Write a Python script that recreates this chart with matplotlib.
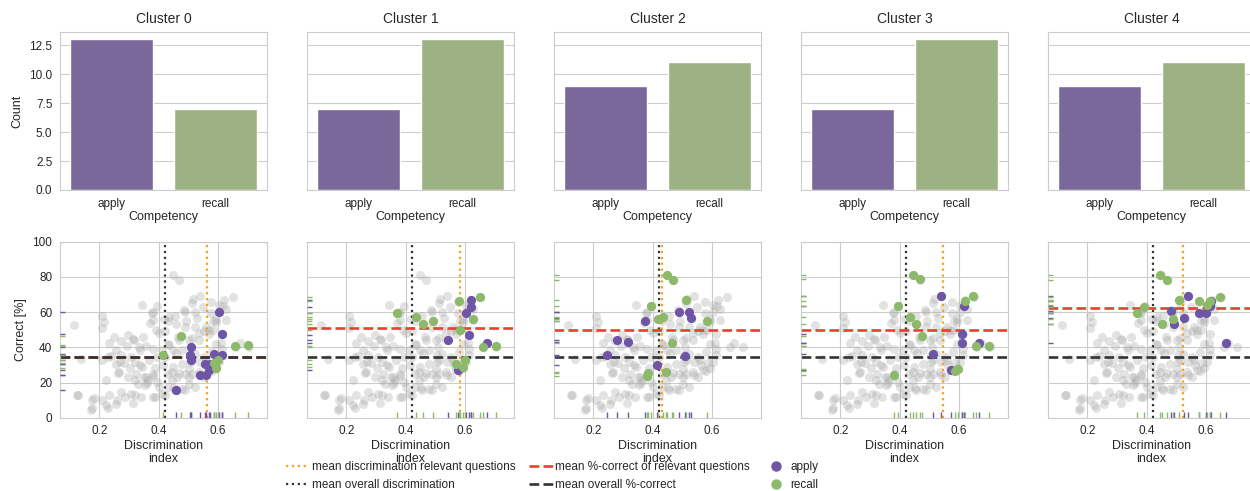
import numpy as np
import matplotlib
matplotlib.use("Agg")
import matplotlib.pyplot as plt
from matplotlib.lines import Line2D
import seaborn as sns

sns.set_style("whitegrid")
plt.rcParams['font.family'] = ['Liberation Sans', 'DejaVu Sans']

# ---- data ----
clusters = ['Cluster 0', 'Cluster 1', 'Cluster 2', 'Cluster 3', 'Cluster 4']
competencies = ['apply', 'recall']
apply_counts = [13, 7, 9, 7, 9]
recall_counts = [7, 13, 11, 13, 11]

# questions of each cluster (discrimination index, % correct)
apply_disc = [
    [0.602, 0.612, 0.510, 0.507, 0.510, 0.585, 0.614, 0.555, 0.572, 0.538, 0.569, 0.558, 0.457],
    [0.619, 0.619, 0.605, 0.544, 0.615, 0.674, 0.575],
    [0.488, 0.523, 0.530, 0.374, 0.280, 0.318, 0.247, 0.508, 0.415],
    [0.538, 0.616, 0.610, 0.609, 0.669, 0.511, 0.573],
    [0.539, 0.616, 0.615, 0.482, 0.577, 0.601, 0.526, 0.492, 0.668],
]
apply_correct = [
    [59.9, 47.7, 40.3, 35.6, 32.8, 36.2, 35.6, 30.5, 30.5, 24.3, 27.1, 24.4, 15.7],
    [66.9, 63.1, 59.7, 44.1, 47.2, 42.2, 26.9],
    [59.9, 59.9, 56.7, 55.0, 43.9, 42.9, 35.9, 35.0, 29.7],
    [69.3, 63.4, 47.4, 42.7, 42.7, 36.4, 26.9],
    [69.0, 66.5, 63.7, 60.9, 59.7, 59.7, 56.7, 53.5, 42.5],
]
recall_disc = [
    [0.474, 0.414, 0.658, 0.701, 0.600, 0.594, 0.585],
    [0.579, 0.651, 0.371, 0.435, 0.458, 0.492, 0.626, 0.583, 0.660, 0.706, 0.601, 0.594, 0.570],
    [0.447, 0.469, 0.512, 0.395, 0.417, 0.435, 0.582, 0.466, 0.446, 0.384, 0.380],
    [0.446, 0.470, 0.647, 0.619, 0.393, 0.434, 0.454, 0.475, 0.656, 0.702, 0.595, 0.585, 0.381],
    [0.445, 0.468, 0.647, 0.510, 0.575, 0.612, 0.392, 0.369, 0.453, 0.490, 0.605],
]
recall_correct = [
    [46.6, 35.6, 40.9, 41.3, 32.8, 28.1, 31.0],
    [66.1, 68.8, 59.3, 57.4, 53.2, 54.7, 56.1, 49.8, 40.3, 40.9, 32.8, 29.0, 30.5],
    [81.1, 78.3, 66.9, 63.3, 56.1, 57.1, 55.0, 42.7, 25.7, 25.3, 23.5],
    [81.2, 78.6, 69.1, 66.2, 63.6, 57.5, 53.5, 46.7, 40.6, 41.0, 27.9, 26.4, 24.1],
    [81.1, 78.1, 68.8, 66.9, 66.2, 66.5, 63.1, 59.4, 53.1, 56.0, 64.0],
]

# remaining questions (shown only in the grey background)
other_disc = [
    0.115, 0.211, 0.217, 0.209, 0.251, 0.274, 0.314, 0.348, 0.359, 0.382,
    0.336, 0.294, 0.138, 0.240, 0.274, 0.308, 0.257, 0.285, 0.319, 0.344,
    0.262, 0.297, 0.325, 0.356, 0.382, 0.331, 0.353, 0.365, 0.393, 0.308,
    0.274, 0.234, 0.257, 0.223, 0.211, 0.177, 0.172, 0.126, 0.342, 0.382,
    0.410, 0.433, 0.456, 0.478, 0.501, 0.524, 0.552, 0.581, 0.564, 0.541,
    0.507, 0.478, 0.450, 0.433, 0.461, 0.490, 0.513, 0.552, 0.524, 0.478,
    0.450, 0.422, 0.393, 0.410, 0.433, 0.467, 0.501, 0.535, 0.569, 0.552,
    0.626, 0.592, 0.558, 0.524, 0.490, 0.456, 0.433, 0.422, 0.660, 0.615,
    0.592, 0.603, 0.501, 0.344, 0.380, 0.380, 0.487, 0.515, 0.549, 0.628,
    0.594, 0.296, 0.391, 0.234, 0.256, 0.222, 0.313, 0.316, 0.333, 0.209,
    0.231, 0.271, 0.265, 0.305, 0.338, 0.367, 0.389, 0.350, 0.322, 0.361,
    0.400, 0.445, 0.468, 0.502, 0.535, 0.490, 0.451, 0.423, 0.389, 0.322,
    0.288, 0.260, 0.231, 0.181, 0.130, 0.175, 0.513, 0.558, 0.580, 0.457,
    0.434, 0.468, 0.513, 0.535, 0.569, 0.490, 0.513, 0.575, 0.378, 0.372,
    0.400, 0.703,
]
other_correct = [
    52.9, 58.0, 54.3, 51.0, 45.7, 43.5, 44.8, 45.7, 41.0, 39.1,
    38.2, 41.0, 33.5, 35.3, 35.9, 34.4, 30.6, 31.0, 31.6, 28.7,
    25.3, 23.1, 25.0, 23.1, 25.0, 19.3, 18.3, 21.2, 20.2, 13.6,
    14.6, 12.7, 7.9, 7.0, 9.8, 9.8, 4.2, 12.7, 11.7, 11.7,
    13.6, 17.4, 15.5, 16.4, 19.3, 17.4, 23.1, 26.8, 29.7, 31.6,
    31.6, 30.6, 28.7, 25.0, 23.1, 25.0, 25.0, 34.4, 36.3, 38.2,
    38.2, 34.4, 34.4, 38.2, 42.0, 45.7, 43.9, 43.9, 47.6, 49.5,
    55.6, 54.3, 51.4, 51.4, 51.4, 58.0, 55.2, 49.5, 40.1, 39.1,
    42.0, 31.6, 27.8, 64.0, 60.2, 55.5, 61.2, 67.2, 63.0, 62.0,
    55.9, 47.0, 49.8, 42.2, 38.4, 21.4, 8.1, 44.1, 40.3, 32.8,
    34.7, 31.8, 26.1, 28.1, 29.9, 32.8, 28.1, 23.3, 21.4, 19.5,
    17.6, 21.4, 25.2, 23.3, 26.1, 15.7, 16.7, 12.9, 11.9, 12.9,
    11.9, 10.1, 5.3, 11.0, 12.9, 5.3, 32.8, 32.8, 37.5, 36.6,
    41.3, 44.1, 45.1, 48.0, 49.8, 60.2, 65.0, 65.9, 59.3, 53.6,
    48.0, 40.1,
]

mean_disc_all = 0.422
mean_correct_all = 34.5
mean_disc_rel = [0.563, 0.583, 0.433, 0.546, 0.524]
mean_correct_rel = [34.7, 51.1, 49.9, 50.1, 62.6]

# ---- styling ----
bar_colors = ['#7b689b', '#9db282']
pt_colors = ['#6f55a5', '#8cb96a']
c_orange = '#f5a020'
c_red = '#e4412f'
c_dark = '#333333'

# all questions for the grey background (drop the near-duplicates)
bx, by = list(other_disc), list(other_correct)
for k in range(len(clusters)):
    for xs, ys in ((apply_disc[k], apply_correct[k]), (recall_disc[k], recall_correct[k])):
        for x, y in zip(xs, ys):
            if not any(abs(x - a) < 0.01 and abs(y - b) < 1.5 for a, b in zip(bx, by)):
                bx.append(x)
                by.append(y)

fig = plt.figure(figsize=(12.5, 4.91), dpi=100)
W, H = 1250, 491
left0, step, aw = 60, 247, 207

for k, name in enumerate(clusters):
    x0 = (left0 + step * k) / W
    # bar chart of competency counts
    ax = fig.add_axes([x0, 1 - 190 / H, aw / W, (190 - 31.7) / H])
    ax.bar([0, 1], [apply_counts[k], recall_counts[k]], width=0.8, color=bar_colors)
    ax.set_xlim(-0.5, 1.5)
    ax.set_ylim(0, 13.65)
    ax.set_xticks([0, 1])
    ax.set_xticklabels(competencies)
    ax.set_yticks(np.arange(0, 13, 2.5))
    ax.grid(axis='x', visible=False)
    ax.set_title(name, fontsize=10)
    ax.set_xlabel('Competency', fontsize=9, labelpad=1)
    ax.tick_params(labelsize=8.5, pad=2)
    if k == 0:
        ax.set_ylabel('Count', fontsize=9)
    else:
        ax.set_yticklabels([])

    # scatter of discrimination vs % correct
    ax2 = fig.add_axes([x0, 1 - 417.7 / H, aw / W, (417.7 - 241.7) / H])
    ax2.scatter(bx, by, s=42, color='#a8a8a8', alpha=0.33, linewidths=0, zorder=1)
    ax2.axvline(mean_disc_rel[k], color=c_orange, ls=':', lw=1.6, zorder=2)
    ax2.axvline(mean_disc_all, color=c_dark, ls=':', lw=1.6, zorder=2)
    ax2.axhline(mean_correct_rel[k], color=c_red, ls='--', lw=1.9, zorder=2)
    ax2.axhline(mean_correct_all, color=c_dark, ls='--', lw=1.9, zorder=2)
    for xs, ys, col in ((apply_disc[k], apply_correct[k], pt_colors[0]),
                        (recall_disc[k], recall_correct[k], pt_colors[1])):
        ax2.scatter(xs, ys, s=44, color=col, linewidths=0, zorder=3)
        # rug marks along both axes
        ax2.vlines(xs, 0, 0.03, color=col, lw=1, transform=ax2.get_xaxis_transform(), zorder=3)
        ax2.hlines(ys, 0, 0.025, color=col, lw=1, transform=ax2.get_yaxis_transform(), zorder=3)
    ax2.set_xlim(0.068, 0.765)
    ax2.set_ylim(0, 100)
    ax2.set_xticks([0.2, 0.4, 0.6])
    ax2.set_yticks(range(0, 101, 20))
    ax2.set_xlabel('Discrimination\nindex', fontsize=9, labelpad=2, linespacing=1.15)
    ax2.tick_params(labelsize=8.5, pad=2)
    if k == 0:
        ax2.set_ylabel('Correct [%]', fontsize=9)
    else:
        ax2.set_yticklabels([])

handles = [
    Line2D([], [], color=c_orange, ls=':', lw=1.6),
    Line2D([], [], color=c_dark, ls=':', lw=1.6),
    Line2D([], [], color=c_red, ls='--', lw=1.9),
    Line2D([], [], color=c_dark, ls='--', lw=1.9),
    Line2D([], [], color=pt_colors[0], marker='o', ls='', markersize=6.5),
    Line2D([], [], color=pt_colors[1], marker='o', ls='', markersize=6.5),
]
labels = ['mean discrimination relevant questions', 'mean overall discrimination',
          'mean %-correct of relevant questions', 'mean overall %-correct',
          'apply', 'recall']
fig.legend(handles, labels, loc='center', bbox_to_anchor=(552 / W, (491 - 476) / H),
           ncol=3, frameon=False, fontsize=8.5, handlelength=2.0, handletextpad=0.2,
           columnspacing=1.2, labelspacing=0.45, borderpad=0.2)

fig.savefig('out.png', dpi=100)
